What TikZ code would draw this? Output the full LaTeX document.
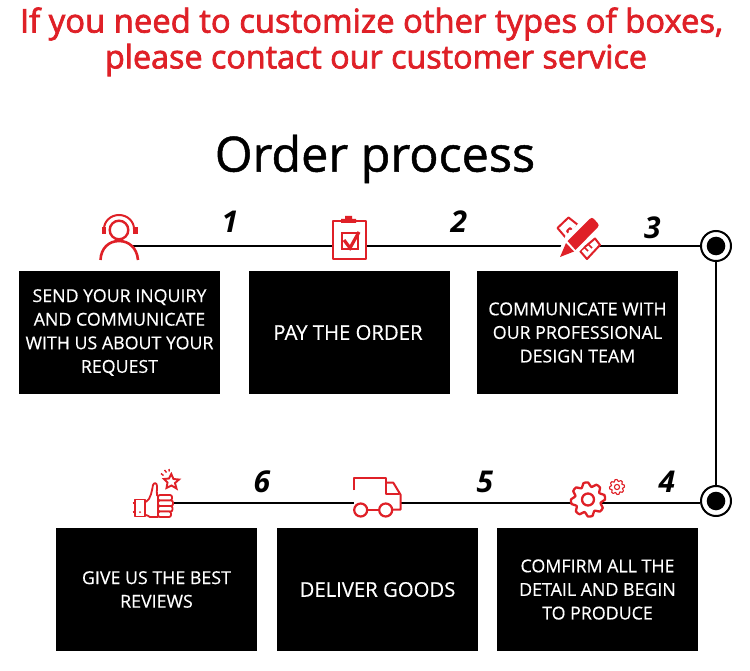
\documentclass[tikz,border=0pt]{standalone}
\usepackage{fontspec}
\setmainfont{Open Sans}
\newfontfamily\headfont[FakeBold=2.2]{Open Sans}
\newfontfamily\titlefont[FakeBold=1]{Open Sans}
\newfontfamily\boxfont[FakeBold=0.4]{Open Sans}
\definecolor{ired}{HTML}{DF2027}
\newcommand{\fsz}[2]{\fontsize{#1pt}{#2pt}\selectfont}
\tikzset{
  stepbox/.style={fill=black,text=white,minimum width=201pt,minimum height=123pt,inner sep=0pt,align=center,font=\boxfont\fsz{17.8}{23.6}},
  bigbox/.style={stepbox,font=\boxfont\fsz{20.3}{24}},
  stepnum/.style={font=\fsz{30}{30}\bfseries\itshape,text=black,inner sep=0pt},
  conn/.style={draw=black,line width=2pt},
  icon/.style={draw=ired,line width=2pt,fill=white,line join=round},
  head/.style={text=ired,inner sep=0pt,font=\headfont\fsz{32.8}{37},align=center},
  pt/.style={inner sep=0pt,minimum size=0pt}
}
\begin{document}
\begin{tikzpicture}[x=1pt,y=-1pt]
\useasboundingbox (0,0) rectangle (750,671);
\fill[white] (0,0) rectangle (750,671);
% headings
\node[head] (h1) at (371.5,24) {If you need to customize other types of boxes,};
\node[head,font=\headfont\fsz{32.3}{37}] (h2) at (376,60) {please contact our customer service};
\node[inner sep=0pt,font=\titlefont\fsz{48.5}{50}] (title) at (375,159) {Order process};
% boxes
\node[stepbox] (b1) at (119.5,332.5) {SEND YOUR INQUIRY\\AND COMMUNICATE\\WITH US ABOUT YOUR\\REQUEST};
\node[bigbox] (b2) at (349.5,332.5) {\hspace*{-3pt}PAY THE ORDER};
\node[stepbox] (b3) at (577.5,332.5) {COMMUNICATE WITH\\OUR PROFESSIONAL\\DESIGN TEAM};
\node[stepbox] (b4) at (597.5,589.5) {COMFIRM ALL THE\\DETAIL AND BEGIN\\TO PRODUCE};
\node[bigbox] (b5) at (377.5,589.5) {DELIVER GOODS};
\node[stepbox] (b6) at (156.5,589.5) {GIVE US THE BEST\\REVIEWS};
% anchor points of the connector
\coordinate (iPerson) at (133,246);
\coordinate (iClip) at (349,246);
\coordinate (iPencil) at (578,246);
\coordinate (iGear) at (588,503);
\coordinate (iTruck) at (378,503);
\coordinate (iThumb) at (160,503);
\node[circle,pt,minimum size=31pt] (t1) at (716,246) {};
\node[circle,pt,minimum size=31pt] (t2) at (716,501) {};
% connectors
\draw[conn] (iPerson) -- (iClip);
\draw[conn] (iClip) -- (iPencil);
\draw[conn] (iPencil) -- (t1.west);
\draw[conn] (t1.south) -- (t2.north);
\draw[conn] (t2.west |- iGear) -- (iGear);
\draw[conn] (iGear) -- (iTruck);
\draw[conn] (iTruck) -- (iThumb);
% targets
\foreach \t in {t1,t2}{
  \draw[black,line width=2pt,fill=white] (\t) circle (15pt);
  \fill[black] (\t) circle (9.3pt);
}
% numbers
\node[stepnum] (n1) at (230,222) {1};
\node[stepnum] (n2) at (459,222) {2};
\node[stepnum] (n3) at (652.5,228) {3};
\node[stepnum] (n4) at (667,482) {4};
\node[stepnum] (n5) at (485,482) {5};
\node[stepnum] (n6) at (262,482) {6};
% person icon
\begin{scope}[draw=ired,line width=2.4pt]
  \draw[ired] (119,230) circle (9.3pt);
  \draw[ired,line width=2pt] (104,229) arc[start angle=180,end angle=360,radius=15pt,y radius=-14pt];
  \fill[ired] (102,227) rectangle (106,234);
  \fill[ired] (133,227) rectangle (137.5,234);
  \draw[ired,line width=2.6pt] (100.5,260) .. controls (101,248) and (109,241) .. (119,241) .. controls (129,241) and (137,248) .. (138,260);
\end{scope}
% clipboard icon
\draw[icon] (333,221.5) rectangle (365.5,259);
\fill[ired] (341,219) rectangle (356,223) (345,216) rectangle (352,219);
\draw[ired,line width=2pt] (341.5,233.5) rectangle (358,249.5);
\draw[ired,line width=3.2pt,line join=miter] (344,240) -- (350,248) -- (359,232);
% pencil and rulers icon
\draw[icon] (557.5,228) -- (568.5,217.5) -- (578,225) -- (573,231) -- (570,228) -- (567,231) -- (569.5,234) -- (566,238) -- cycle;
\draw[icon] (580,251) -- (595,238.5) -- (600,245) -- (587,259) -- cycle;
\draw[ired,line width=1.6pt] (584,247) -- (588,251) (588,244) -- (592,248);
\fill[white] (556,257) -- (566,235) -- (590,213) -- (602,227) -- (577,254) -- cycle;
\fill[ired] (560,257) -- (566,243) -- (574,251.5) -- cycle;
\fill[ired] (567.5,241) -- (589.5,219) .. controls (591,217.5) and (592.5,217.5) .. (594,219) -- (597.5,223) .. controls (599,224.5) and (599,226) .. (597.5,227.5) -- (575.5,250) -- cycle;
% gear icons
\foreach \cx/\cy/\ro/\ri/\rh/\lw in {588/499.5/17/13/6/2.3,617/487/7.5/5.6/2.6/1.1}{
  \draw[ired,fill=white,line width=\lw pt,line join=round]
    plot[smooth cycle,tension=0.35,samples at={0,15,...,345}] ({\cx+(mod(\x+15,45)<22.5 ? \ro : \ri)*cos(\x)},{\cy+(mod(\x+15,45)<22.5 ? \ro : \ri)*sin(\x)});
  \draw[ired,line width=\lw pt] (\cx,\cy) circle (\rh pt);
}
% truck icon
\fill[white] (354,478) rectangle (401,509);
\draw[ired,line width=2pt,line join=round] (354,490) -- (354,477.5) -- (385.7,477.5) -- (385.7,493.5) -- (398.5,493.5);
\draw[ired,line width=2pt,line join=round] (385.7,482.7) -- (393.3,482.7) -- (400.7,495) -- (400.7,509.5) -- (393,509.5);
\draw[ired,line width=2.2pt,fill=white] (360.7,510) circle (6.5pt);
\draw[ired,line width=2.2pt,fill=white] (385.7,510) circle (6.5pt);
\draw[ired,line width=2pt] (367.2,510) -- (379.2,510);
% thumb icon
\draw[ired,line width=1.7pt,fill=white,line join=round] (135,499.5) rectangle (145,516.5);
\draw[ired,line width=1.7pt] (132.7,503) -- (135,503) (132.7,512) -- (135,512);
\fill[ired] (140,512) circle (1pt);
\draw[ired,line width=1.8pt,fill=white,line join=round] (146,502) .. controls (151,499) and (152,490) .. (153,485) .. controls (154,482) and (157,483) .. (157,486) .. controls (157.5,490) and (156,493) .. (157,495.5) -- (158,495.5) -- (158,517) -- (150,517) .. controls (148,516) and (147,515) .. (146,515);
\foreach \yy/\xa in {495/172,500.5/173,506/172.5,511.5/171}{
  \draw[ired,line width=1.8pt,fill=white,rounded corners=2pt] (158,\yy) rectangle (\xa,\yy+5.5);
}
\draw[ired,line width=1.9pt,fill=white,line join=miter]
  (171.3,474) -- (173.5,479) -- (179,479.5) -- (175,483) -- (176.5,488.5) -- (171.5,485.5) -- (166.5,488) -- (167.5,482.5) -- (164,479) -- (169,478.5) -- cycle;
\draw[ired,line width=1.4pt] (161,473.5) -- (163.5,475.5) (164.5,470) -- (166.5,472.5) (169,469) -- (169.3,471.5);
\end{tikzpicture}
\end{document}
